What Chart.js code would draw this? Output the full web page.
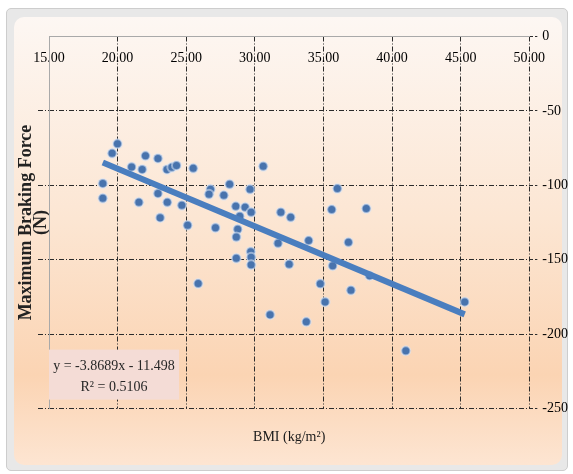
<!DOCTYPE html>
<html>
<head>
<meta charset="utf-8">
<script src="https://cdn.jsdelivr.net/npm/chart.js@4/dist/chart.umd.min.js"></script>
<style>
  html, body { margin: 0; padding: 0; background: #ffffff; }
  #wrap { position: relative; width: 573px; height: 474px; overflow: hidden; }
  #frame { position: absolute; left: 6px; top: 8px; width: 562px; height: 463px; box-sizing: border-box;
           background: #e8e8e8; border: 1px solid #cdcdcd; border-radius: 5px; }
  #inner { position: absolute; left: 14px; top: 17px; width: 548px; height: 448px; border-radius: 10px;
           background: linear-gradient(to bottom, #fdf7f3 0%, #fce6d3 45%, #fbd4b3 80%, #fde5d2 100%); }
  canvas { position: absolute; left: 0; top: 0; }
</style>
</head>
<body>
<div id="wrap">
  <div id="frame"></div>
  <div id="inner"></div>
  <canvas id="c" width="573" height="474"></canvas>
</div>
<script>
// ---- data ----
const bmi = [19.99, 19.60, 18.92, 18.92, 22.03, 22.94, 21.02, 21.79, 23.60, 23.95,
             24.29, 25.51, 21.55, 22.94, 23.62, 24.68, 23.10, 25.10, 25.87, 26.77,
             26.66, 27.74, 28.16, 29.65, 30.61, 28.61, 29.29, 29.73, 28.90, 28.75,
             28.65, 27.13, 28.65, 29.70, 29.73, 29.73, 31.89, 32.61, 31.69, 32.50,
             31.11, 36.01, 35.60, 38.12, 33.92, 36.82, 35.67, 34.77, 37.00, 35.12,
             33.75, 38.36, 45.29, 41.00];
const brakingForce = [-72.1, -78.5, -98.7, -108.7, -80.2, -81.9, -87.6, -89.3, -89.3, -87.9,
                      -86.6, -88.6, -111.4, -105.4, -111.4, -113.4, -121.7, -126.8, -166.0, -102.7,
                      -106.0, -106.7, -99.3, -102.7, -87.2, -114.1, -114.8, -118.1, -120.8, -129.5,
                      -134.7, -128.5, -149.0, -144.6, -148.3, -153.4, -118.1, -121.5, -138.9, -153.0,
                      -186.9, -102.2, -116.3, -115.6, -137.1, -138.3, -154.0, -166.1, -170.5, -178.3,
                      -191.7, -160.7, -178.3, -211.2];
// linear trendline endpoints (y = -3.8689x - 11.498 over the data range)
const trendX = [18.92, 45.29];
const trendY = [-84.7, -186.7];
const xTickLabels = ['15.00', '20.00', '25.00', '30.00', '35.00', '40.00', '45.00', '50.00'];
const yTickLabels = ['0', '-50', '-100', '-150', '-200', '-250'];
const equationLines = ['y = -3.8689x - 11.498', 'R\u00B2 = 0.5106'];
const xTitle = 'BMI (kg/m\u00B2)';
const yTitle = ['Maximum Braking Force', '(N)'];

const points = bmi.map((x, i) => ({x: x, y: brakingForce[i]}));
const trend = trendX.map((x, i) => ({x: x, y: trendY[i]}));

const serif = 'Liberation Serif';
const dashDot = [5, 2, 1, 2];

const eqBox = {
  id: 'eqBox',
  afterDatasetsDraw(chart) {
    const ctx = chart.ctx, ca = chart.chartArea;
    const left = ca.left, top = ca.bottom - 59, w = 130, h = 50;
    ctx.save();
    ctx.fillStyle = '#f4dcd6';
    ctx.fillRect(left, top, w, h);
    ctx.fillStyle = '#262626';
    ctx.font = '14px "' + serif + '"';
    ctx.textAlign = 'center';
    ctx.textBaseline = 'middle';
    ctx.fillText(equationLines[0], left + w / 2, top + 17);
    ctx.fillText(equationLines[1], left + w / 2, top + 38);
    ctx.restore();
  }
};

new Chart(document.getElementById('c'), {
  type: 'scatter',
  data: {
    datasets: [
      {
        type: 'line',
        data: trend,
        borderColor: '#4a7ebf',
        borderWidth: 6,
        pointRadius: 0,
        fill: false,
        order: 0
      },
      {
        data: points,
        backgroundColor: '#4873ad',
        borderColor: 'rgba(215,228,245,0.55)',
        borderWidth: 2,
        pointRadius: 4.5,
        order: 1
      }
    ]
  },
  options: {
    responsive: false,
    animation: false,
    devicePixelRatio: 1,
    layout: { padding: { top: 36.5, right: 0, bottom: 20, left: 0 } },
    plugins: { legend: { display: false }, tooltip: { enabled: false } },
    scales: {
      x: {
        type: 'linear',
        position: { y: 0 },
        min: 15, max: 50,
        ticks: {
          stepSize: 5,
          padding: 13,
          color: '#000',
          font: { family: serif, size: 14 },
          callback: (v) => xTickLabels[Math.round((v - 15) / 5)]
        },
        grid: {
          drawTicks: false,
          color: (c) => (c.tick && c.tick.value === 15) ? 'rgba(0,0,0,0)' : '#2b2b2b',
          lineWidth: 1
        },
        border: { display: true, color: '#a9a9a9', width: 1, dash: dashDot }
      },
      x2: {
        type: 'linear',
        position: 'bottom',
        min: 15, max: 50,
        ticks: { display: false },
        grid: { display: false, drawTicks: false },
        border: { display: false },
        title: {
          display: true,
          text: xTitle,
          color: '#1a1a1a',
          font: { family: serif, size: 14 },
          padding: { top: 20, bottom: 8.6 }
        }
      },
      y: {
        type: 'linear',
        position: 'right',
        min: -250, max: 0,
        ticks: {
          stepSize: 50,
          padding: 5,
          color: '#000',
          font: { family: serif, size: 14 },
          callback: (v) => yTickLabels[Math.round(-v / 50)]
        },
        grid: {
          color: (c) => (c.tick && c.tick.value === 0) ? 'rgba(0,0,0,0)' : '#2b2b2b',
          lineWidth: 1,
          tickLength: 8,
          tickColor: '#2b2b2b',
          tickBorderDash: [4, 2]
        },
        border: { display: false, dash: dashDot }
      },
      yL: {
        type: 'linear',
        position: 'left',
        min: -250, max: 0,
        ticks: { display: false, stepSize: 50 },
        grid: {
          drawOnChartArea: false,
          drawTicks: true,
          tickLength: 11,
          tickColor: (c) => (c.tick && c.tick.value === 0) ? 'rgba(0,0,0,0)' : '#2b2b2b',
          tickBorderDash: [5, 2, 1, 2]
        },
        border: { display: true, color: '#a9a9a9', width: 1 },
        title: {
          display: true,
          text: yTitle,
          color: '#222',
          font: { family: serif, size: 18, weight: 'bold', lineHeight: '15px' },
          padding: { top: 19, bottom: -11 }
        }
      }
    }
  },
  plugins: [eqBox]
});
</script>
</body>
</html>
